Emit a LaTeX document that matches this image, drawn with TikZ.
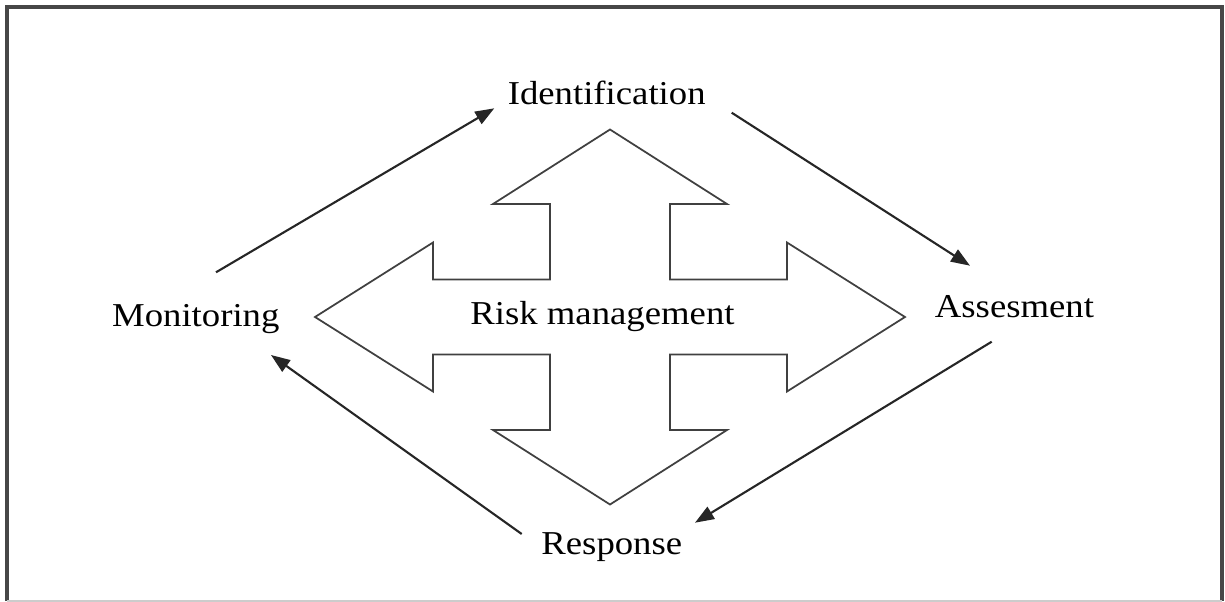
\documentclass[tikz,border=0pt]{standalone}
\usepackage{fontspec}
\setmainfont[FakeStretch=1.10]{Liberation Serif}
\usepackage{tikz}
\usetikzlibrary{%
	calc,%
	arrows.meta
}

\tikzset{
	stage/.style={anchor=base, inner sep=0pt, font=\fontsize{19}{23}\selectfont},
	flow/.style={line width=1.2pt, black!85, -{Triangle[length=0.38cm, width=0.28cm]}},
	crossline/.style={line width=1pt, black!75, line join=miter}
}

\begin{document}
\begin{tikzpicture}[x=0.02cm, y=-0.02cm]
			\useasboundingbox (0,0) rectangle (1225,602);
			
			% Draw the frame
			\draw[line width=2.2pt, black!72] (7,601) -- (7,7) -- (1222,7) -- (1222,601);
			\draw[line width=0.6pt, black!20] (7,601) -- (1222,601);
			
			% Draw the four-way arrow in the middle
			\draw[crossline] (610,129.5) -- (727,204) -- (670,204) -- (670,279.5)
				-- (787,279.5) -- (787,242.5) -- (905,317) -- (787,391.5) -- (787,354.5)
				-- (670,354.5) -- (670,430) -- (727,430) -- (610,504.5) -- (493,430)
				-- (550,430) -- (550,354.5) -- (433,354.5) -- (433,391.5) -- (315,317)
				-- (433,242.5) -- (433,279.5) -- (550,279.5) -- (550,204) -- (493,204) -- cycle;
			
			% Place the stages
			\node[stage] (risk) at (602.5,324) {Risk management};
			\node[stage] (ident) at (606.7,104.3) {Identification};
			\node[stage] (assess) at (1014.5,317.3) {Assesment};
			\node[stage] (resp) at (611.8,554.3) {Response};
			\node[stage] (monit) at (195.8,326.7) {Monitoring};
			
			% Ends of the cycle arrows
			\coordinate (monit-out) at (216,272.3);
			\coordinate (ident-in) at (494.3,108.3);
			\coordinate (ident-out) at (731.7,112.7);
			\coordinate (assess-in) at (970,265.7);
			\coordinate (assess-out) at (991.7,341.7);
			\coordinate (resp-in) at (695,522.7);
			\coordinate (resp-out) at (521.7,534);
			\coordinate (monit-in) at (271,355);
			
			% Draw the cycle arrows
			\draw[flow] (monit-out) -- (ident-in);
			\draw[flow] (ident-out) -- (assess-in);
			\draw[flow] (assess-out) -- (resp-in);
			\draw[flow] (resp-out) -- (monit-in);
		\end{tikzpicture}
\end{document}
